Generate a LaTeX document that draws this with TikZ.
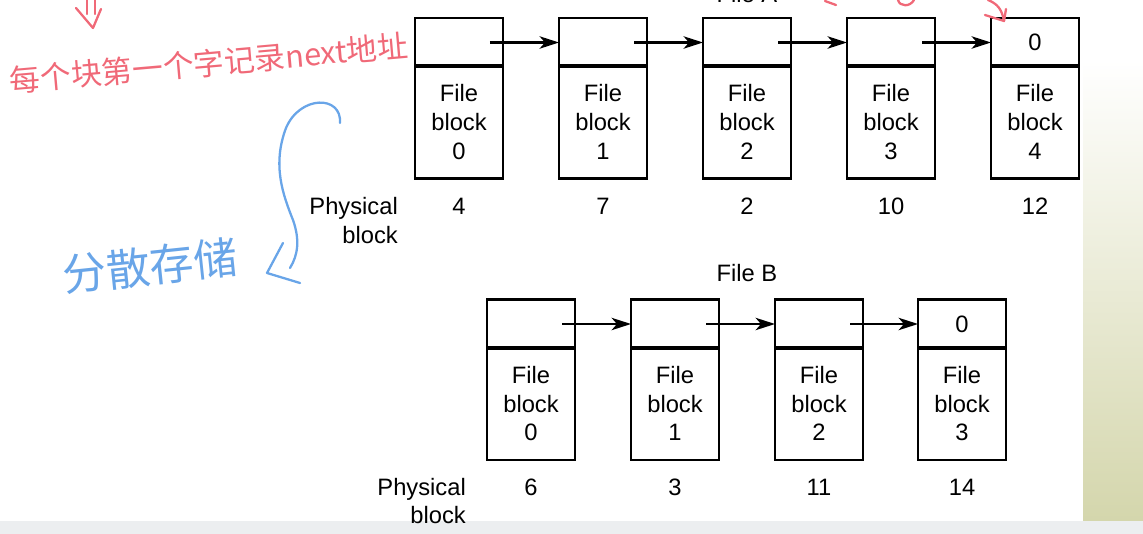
\documentclass[tikz,border=0pt]{standalone}
\usepackage{fontspec}
\setmainfont{Liberation Sans}
\newfontfamily\cjk{Noto Sans CJK SC}
\usetikzlibrary{positioning,arrows.meta}
\definecolor{penred}{RGB}{240,105,120}
\definecolor{penblue}{RGB}{105,165,232}
\definecolor{slidegreen}{RGB}{212,214,172}
\definecolor{slidegrey}{RGB}{236,238,240}
\tikzset{
  ptrbox/.style={draw, line width=1.4pt, outer sep=0pt, inner sep=0pt,
                 minimum width=1.76cm, minimum height=0.98cm},
  databox/.style={ptrbox, minimum height=2.26cm, align=center},
  nextptr/.style={-{Stealth[length=11pt,width=7pt,inset=3pt]}, line width=1.4pt},
  pblock/.style={anchor=east, align=right},
  pen/.style={line width=1.3pt, line cap=round, line join=round},
}
\begin{document}
\begin{tikzpicture}[x=0.02cm, y=-0.02cm, font=\fontsize{13.5pt}{16.4pt}\selectfont]
  \useasboundingbox (0,0) rectangle (1143,534);
  \clip (0,0) rectangle (1143,534);
  % slide background
  \shade[top color=white, bottom color=slidegreen] (1083,60) rectangle (1143,521);
  \fill[slidegrey] (0,521) rectangle (1143,534);

  % File A
  \node (file_a) [anchor=base] at (747,3) {File A};
  \node (a0) [ptrbox] at (459,42.5) {};
  \node (a1) [ptrbox] at (603,42.5) {};
  \node (a2) [ptrbox] at (747,42.5) {};
  \node (a3) [ptrbox] at (891,42.5) {};
  \node (a4) [ptrbox] at (1035,42.5) {0};
  \node (a0_d) [databox, below=-0.8pt of a0] {File\\block\\0};
  \node (a1_d) [databox, below=-0.8pt of a1] {File\\block\\1};
  \node (a2_d) [databox, below=-0.8pt of a2] {File\\block\\2};
  \node (a3_d) [databox, below=-0.8pt of a3] {File\\block\\3};
  \node (a4_d) [databox, below=-0.8pt of a4] {File\\block\\4};
  \draw[nextptr] ([xshift=-0.26cm]a0.east) -- (a1.west);
  \draw[nextptr] ([xshift=-0.26cm]a1.east) -- (a2.west);
  \draw[nextptr] ([xshift=-0.26cm]a2.east) -- (a3.west);
  \draw[nextptr] ([xshift=-0.26cm]a3.east) -- (a4.west);
  \node (phys_a) [pblock] at (404,220.5) {Physical\\block};
  \node (pa0) at (459,206) {4};
  \node (pa1) at (603,206) {7};
  \node (pa2) at (747,206) {2};
  \node (pa3) at (891,206) {10};
  \node (pa4) at (1035,206) {12};

  % File B
  \node (file_b) at (747,273) {File B};
  \node (b0) [ptrbox] at (531,324) {};
  \node (b1) [ptrbox] at (675,324) {};
  \node (b2) [ptrbox] at (819,324) {};
  \node (b3) [ptrbox] at (962,324) {0};
  \node (b0_d) [databox, below=-0.8pt of b0] {File\\block\\0};
  \node (b1_d) [databox, below=-0.8pt of b1] {File\\block\\1};
  \node (b2_d) [databox, below=-0.8pt of b2] {File\\block\\2};
  \node (b3_d) [databox, below=-0.8pt of b3] {File\\block\\3};
  \draw[nextptr] ([xshift=-0.26cm]b0.east) -- (b1.west);
  \draw[nextptr] ([xshift=-0.26cm]b1.east) -- (b2.west);
  \draw[nextptr] ([xshift=-0.26cm]b2.east) -- (b3.west);
  \node (phys_b) [pblock] at (472,501) {Physical\\block};
  \node (pb0) at (531,487) {6};
  \node (pb1) at (675,487) {3};
  \node (pb2) at (819,487) {11};
  \node (pb3) at (962,487) {14};

  % handwritten notes
  \node (note_red) [penred, rotate=5, font=\cjk\fontsize{17.5pt}{17.5pt}\selectfont] at (209,63) {每个块第一个字记录next地址};
  \draw[penred, pen] (87,0) -- (87,14) (95,0) -- (95,14);
  \draw[penred, pen] (76,8) -- (93,28) -- (101,9);
  \draw[penred, pen] (988,0) .. controls (998,4) and (1002,10) .. (1004,21);
  \draw[penred, pen] (985,15) -- (1004,21) -- (1006,9);
  \draw[penred, pen] (825,1) -- (836,5);
  \draw[penred, pen] (898,0) .. controls (900,7) and (910,7) .. (914,0);
  \node (note_blue) [penblue, rotate=6, font=\cjk\fontsize{25pt}{25pt}\selectfont] at (150,266) {分散存储};
  \draw[penblue, pen] (340,123) .. controls (342,95) and (300,95) .. (286,128)
        .. controls (272,165) and (283,195) .. (293,220) .. controls (300,240) and (298,255) .. (290,268);
  \draw[penblue, pen] (283,243) -- (267,273) -- (300,283);
\end{tikzpicture}
\end{document}
